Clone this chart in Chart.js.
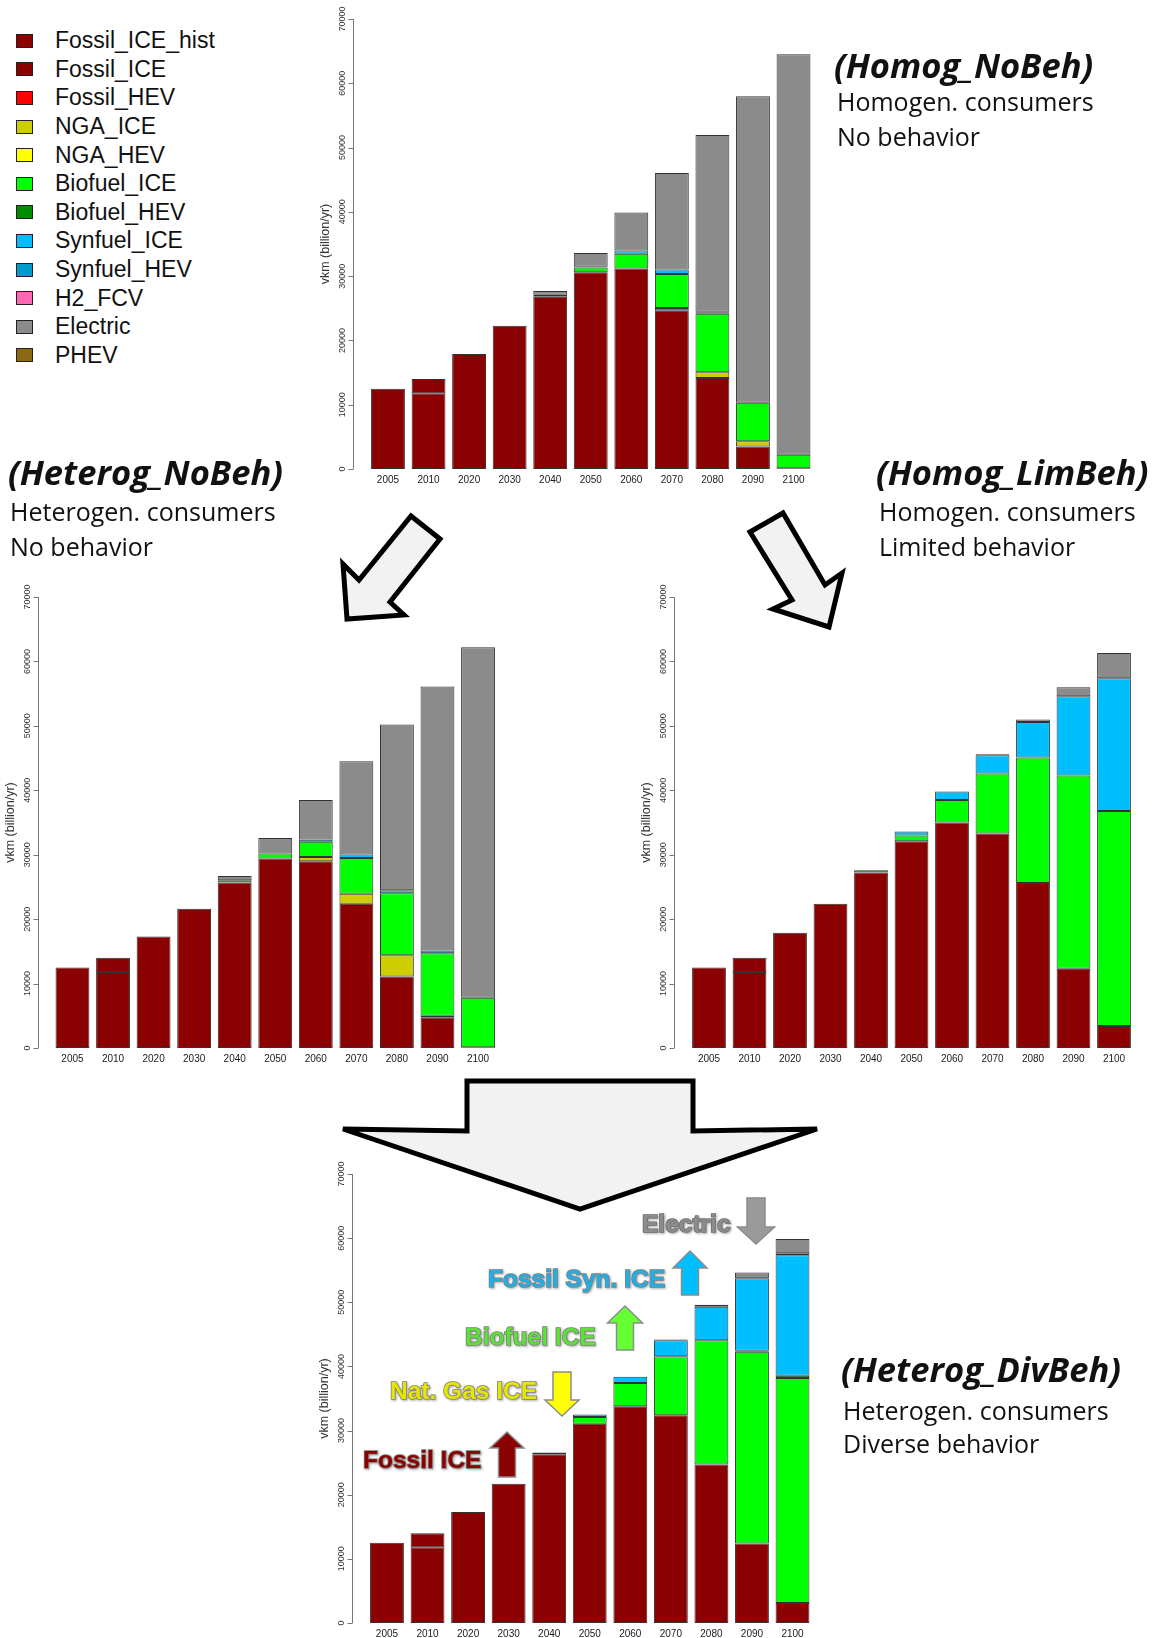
<!DOCTYPE html>
<html>
<head>
<meta charset="utf-8">
<title>Vehicle km by technology, four consumer scenarios</title>
<script src="https://cdn.jsdelivr.net/npm/chart.js@4.4.1/dist/chart.umd.min.js"></script>
<style>
  html, body { margin: 0; padding: 0; background: #fff; }
  body { width: 1157px; height: 1638px; position: relative; overflow: hidden; font-family: "Liberation Sans", Arial, sans-serif; }
  .panel { position: absolute; }
  .leg-row { position: absolute; left: 16px; height: 28px; display: flex; align-items: center; white-space: nowrap; }
  .leg-box { width: 17px; height: 14px; box-sizing: border-box; border: 1.5px solid #222; }
  .leg-text { margin-left: 22px; font-size: 23px; color: #111; }
  #overlay { position: absolute; left: 0; top: 0; pointer-events: none; }
  .scen { font-family: "Open Sans", sans-serif; fill: #111; }
  .scen-title { font-weight: 700; font-style: italic; font-size: 34.5px; }
  .scen-line { font-size: 25px; }
  .note { font-family: "Liberation Sans", Arial, sans-serif; font-weight: 700; font-size: 24.5px;
          stroke: #7f7f7f; stroke-width: 1.6px; paint-order: stroke; filter: drop-shadow(1px 1px 1px rgba(0,0,0,0.35)); }
  .note-arrow { stroke: #8c8c8c; stroke-width: 1.5px; }
</style>
</head>
<body>

<div id="legend"></div>

<div class="panel" style="left:300px; top:0px; width:525px; height:495px;"><canvas id="cHomNo"></canvas></div>
<div class="panel" style="left:0px; top:560px; width:520px; height:520px;"><canvas id="cHetNo"></canvas></div>
<div class="panel" style="left:620px; top:560px; width:537px; height:520px;"><canvas id="cHomLim"></canvas></div>
<div class="panel" style="left:300px; top:1140px; width:525px; height:498px;"><canvas id="cHetDiv"></canvas></div>

<svg id="overlay" width="1157" height="1638" xmlns="http://www.w3.org/2000/svg">
  <!-- big flow arrows -->
  <g fill="#f2f2f2" stroke="#000" stroke-width="5" stroke-linejoin="miter">
    <polygon points="411,516 440,539 390,602 404,615 347,619 343,564 359,580"/>
    <polygon points="750,532 783,513 825,585 842,573 829,627 773,609 792,600"/>
    <polygon points="467,1081 693,1081 693,1131 817,1129 580,1209 343,1129 467,1131"/>
  </g>

  <!-- scenario captions -->
  <g class="scen">
    <text class="scen-title" x="834" y="78">(Homog_NoBeh)</text>
    <text class="scen-line" x="837" y="111">Homogen. consumers</text>
    <text class="scen-line" x="837" y="146">No behavior</text>

    <text class="scen-title" x="8" y="485">(Heterog_NoBeh)</text>
    <text class="scen-line" x="10" y="521">Heterogen. consumers</text>
    <text class="scen-line" x="10" y="556">No behavior</text>

    <text class="scen-title" x="876" y="485">(Homog_LimBeh)</text>
    <text class="scen-line" x="879" y="521">Homogen. consumers</text>
    <text class="scen-line" x="879" y="556">Limited behavior</text>

    <text class="scen-title" x="841" y="1382">(Heterog_DivBeh)</text>
    <text class="scen-line" x="843" y="1420">Heterogen. consumers</text>
    <text class="scen-line" x="843" y="1453">Diverse behavior</text>
  </g>

  <!-- change notes on the last panel -->
  <text class="note" x="642" y="1232" fill="#8c8c8c" style="stroke:#6e6e6e">Electric</text>
  <polygon class="note-arrow" fill="#9a9a9a" points="747,1198 765,1198 765,1227 774.5,1227 756,1244 737.5,1227 747,1227"/>

  <text class="note" x="488" y="1287" fill="#1fb0e6">Fossil Syn. ICE</text>
  <polygon class="note-arrow" fill="#00bfff" points="690,1251 707,1268 698.5,1268 698.5,1295 681.5,1295 681.5,1268 673,1268"/>

  <text class="note" x="465" y="1345" fill="#5ee03a">Biofuel ICE</text>
  <polygon class="note-arrow" fill="#66ff33" points="625,1306 642.5,1323 633.5,1323 633.5,1350 616.5,1350 616.5,1323 607.5,1323"/>

  <text class="note" x="390" y="1399" fill="#e6e600">Nat. Gas ICE</text>
  <polygon class="note-arrow" fill="#ffff00" points="553,1372 571,1372 571,1400 579,1400 562,1416 545,1400 553,1400"/>

  <text class="note" x="363" y="1468" fill="#8b0000">Fossil ICE</text>
  <polygon class="note-arrow" fill="#8b0000" points="507,1432 524,1448 515.5,1448 515.5,1477 498.5,1477 498.5,1448 490,1448"/>
</svg>

<script>
  const years = ['2005', '2010', '2020', '2030', '2040', '2050', '2060', '2070', '2080', '2090', '2100'];
  const yTicks = [0, 10000, 20000, 30000, 40000, 50000, 60000, 70000];
  const yTitle = 'vkm (billion/yr)';

  const seriesNames = ['Fossil_ICE_hist', 'Fossil_ICE', 'Fossil_HEV', 'NGA_ICE', 'NGA_HEV', 'Biofuel_ICE',
    'Biofuel_HEV', 'Synfuel_ICE', 'Synfuel_HEV', 'H2_FCV', 'Electric', 'PHEV'];
  const seriesColors = ['#8B0000', '#8B0000', '#FF0000', '#CDCD00', '#FFFF00', '#00FF00',
    '#008B00', '#00BFFF', '#009ACD', '#FF69B4', '#8B8B8B', '#8B6914'];

  // (Homog_NoBeh) - top
  const homNoFossilHist = [12500, 11800, 0, 0, 0, 0, 0, 0, 0, 0, 0];
  const homNoFossilICE = [0, 2200, 17900, 22300, 26800, 30600, 31200, 24700, 14150, 3500, 100];
  const homNoNgaICE = [0, 0, 0, 0, 0, 0, 0, 350, 900, 800, 0];
  const homNoBiofuelICE = [0, 0, 0, 0, 300, 750, 2300, 5300, 9100, 6000, 2100];
  const homNoSynfuelICE = [0, 0, 0, 0, 0, 100, 500, 700, 150, 0, 0];
  const homNoSynfuelHEV = [0, 0, 0, 0, 0, 0, 0, 0, 150, 0, 0];
  const homNoElectric = [0, 0, 0, 0, 600, 2150, 5900, 15000, 27500, 47700, 62300];

  // (Heterog_NoBeh) - middle left
  const hetNoFossilHist = [12500, 11800, 0, 0, 0, 0, 0, 0, 0, 0, 0];
  const hetNoFossilICE = [0, 2200, 17300, 21600, 25700, 29400, 29000, 22400, 11100, 4700, 100];
  const hetNoNgaICE = [0, 0, 0, 0, 0, 0, 650, 1550, 3300, 300, 0];
  const hetNoBiofuelICE = [0, 0, 0, 0, 350, 800, 2350, 5550, 9600, 9700, 7700];
  const hetNoSynfuelICE = [0, 0, 0, 0, 0, 0, 350, 550, 500, 0, 0];
  const hetNoSynfuelHEV = [0, 0, 0, 0, 0, 0, 0, 0, 0, 450, 0];
  const hetNoElectric = [0, 0, 0, 0, 650, 2400, 6150, 14450, 25700, 40950, 54400];

  // (Homog_LimBeh) - middle right
  const homLimFossilHist = [12500, 11800, 0, 0, 0, 0, 0, 0, 0, 0, 0];
  const homLimFossilICE = [0, 2200, 17900, 22400, 27250, 32100, 35000, 33300, 25600, 12300, 3400];
  const homLimBiofuelICE = [0, 0, 0, 0, 350, 900, 3500, 9300, 19500, 30000, 33400];
  const homLimSynfuelICE = [0, 0, 0, 0, 0, 600, 1300, 2850, 5500, 12300, 20600];
  const homLimElectric = [0, 0, 0, 0, 0, 0, 0, 150, 400, 1400, 3900];

  // (Heterog_DivBeh) - bottom
  const hetDivFossilHist = [12500, 11800, 0, 0, 0, 0, 0, 0, 0, 0, 0];
  const hetDivFossilICE = [0, 2200, 17300, 21700, 26300, 31050, 33800, 32400, 24700, 12400, 3100];
  const hetDivBiofuelICE = [0, 0, 0, 0, 300, 1050, 3600, 9200, 19400, 29900, 35100];
  const hetDivBiofuelHEV = [0, 0, 0, 0, 0, 0, 0, 0, 0, 150, 350];
  const hetDivSynfuelICE = [0, 0, 0, 0, 0, 400, 1000, 2500, 5200, 11300, 18800];
  const hetDivSynfuelHEV = [0, 0, 0, 0, 0, 0, 0, 0, 0, 0, 300];
  const hetDivElectric = [0, 0, 0, 0, 0, 0, 0, 100, 300, 900, 2200];

  // legend (top left)
  const legend = document.getElementById('legend');
  seriesNames.forEach(function (name, i) {
    const row = document.createElement('div');
    row.className = 'leg-row';
    row.style.top = (40.7 + i * 28.6 - 14) + 'px';
    row.innerHTML = '<div class="leg-box" style="background:' + seriesColors[i] + '"></div>' +
      '<span class="leg-text">' + name + '</span>';
    legend.appendChild(row);
  });

  // R-style y axis, offset to the left of the bars
  const rAxis = {
    id: 'rAxis',
    afterDraw(chart) {
      const ctx = chart.ctx;
      const y = chart.scales.y;
      const area = chart.chartArea;
      const ax = Math.round(area.left - 14.5) + 0.5;
      ctx.save();
      ctx.strokeStyle = '#777';
      ctx.lineWidth = 1;
      ctx.beginPath();
      ctx.moveTo(ax, y.getPixelForValue(yTicks[0]));
      ctx.lineTo(ax, y.getPixelForValue(yTicks[yTicks.length - 1]));
      yTicks.forEach(function (v) {
        const py = Math.round(y.getPixelForValue(v)) + 0.5;
        ctx.moveTo(ax, py);
        ctx.lineTo(ax - 5, py);
      });
      ctx.stroke();

      ctx.fillStyle = '#333';
      ctx.textAlign = 'center';
      ctx.textBaseline = 'middle';
      ctx.font = '9px "Liberation Sans"';
      yTicks.forEach(function (v) {
        ctx.save();
        ctx.translate(ax - 11, y.getPixelForValue(v));
        ctx.rotate(-Math.PI / 2);
        ctx.fillText(String(v), 0, 0);
        ctx.restore();
      });
      ctx.font = '12.5px "Liberation Sans"';
      ctx.translate(ax - 28, (area.top + area.bottom) / 2);
      ctx.rotate(-Math.PI / 2);
      ctx.fillText(yTitle, 0, 0);
      ctx.restore();
    }
  };

  function makeChart(id, parts, pad, axisH) {
    const datasets = seriesNames.map(function (name, i) {
      const vals = parts[name] || years.map(function () { return 0; });
      return {
        label: name,
        data: vals.map(function (v) { return v === 0 ? null : v; }),
        backgroundColor: seriesColors[i],
        borderColor: '#333',
        borderWidth: 1,
        borderSkipped: false,
        categoryPercentage: 1,
        barPercentage: 0.835
      };
    });
    return new Chart(document.getElementById(id), {
      type: 'bar',
      data: { labels: years, datasets: datasets },
      options: {
        responsive: true,
        maintainAspectRatio: false,
        animation: false,
        layout: { padding: pad },
        plugins: { legend: { display: false }, tooltip: { enabled: false } },
        scales: {
          x: {
            stacked: true,
            grid: { display: false, drawTicks: false },
            border: { display: false },
            ticks: {
              padding: 6, color: '#1a1a1a', maxRotation: 0, autoSkip: false,
              font: { size: 10, family: '"Liberation Sans"', lineHeight: 1 }
            },
            afterFit: function (s) { s.height = axisH; }
          },
          y: { stacked: true, display: false, min: 0, max: 70000, ticks: { stepSize: 10000 } }
        }
      },
      plugins: [rAxis]
    });
  }

  makeChart('cHomNo', {
    Fossil_ICE_hist: homNoFossilHist, Fossil_ICE: homNoFossilICE, NGA_ICE: homNoNgaICE,
    Biofuel_ICE: homNoBiofuelICE, Synfuel_ICE: homNoSynfuelICE, Synfuel_HEV: homNoSynfuelHEV,
    Electric: homNoElectric
  }, { left: 67.7, right: 11.2, top: 19, bottom: 6 }, 20);

  makeChart('cHetNo', {
    Fossil_ICE_hist: hetNoFossilHist, Fossil_ICE: hetNoFossilICE, NGA_ICE: hetNoNgaICE,
    Biofuel_ICE: hetNoBiofuelICE, Synfuel_ICE: hetNoSynfuelICE, Synfuel_HEV: hetNoSynfuelHEV,
    Electric: hetNoElectric
  }, { left: 52.2, right: 21.7, top: 37, bottom: 12 }, 20);

  makeChart('cHomLim', {
    Fossil_ICE_hist: homLimFossilHist, Fossil_ICE: homLimFossilICE, Biofuel_ICE: homLimBiofuelICE,
    Synfuel_ICE: homLimSynfuelICE, Electric: homLimElectric
  }, { left: 68.75, right: 22.75, top: 37, bottom: 12 }, 20);

  makeChart('cHetDiv', {
    Fossil_ICE_hist: hetDivFossilHist, Fossil_ICE: hetDivFossilICE, Biofuel_ICE: hetDivBiofuelICE,
    Biofuel_HEV: hetDivBiofuelHEV, Synfuel_ICE: hetDivSynfuelICE, Synfuel_HEV: hetDivSynfuelHEV,
    Electric: hetDivElectric
  }, { left: 66.7, right: 12.2, top: 34, bottom: 0 }, 15);
</script>
</body>
</html>
